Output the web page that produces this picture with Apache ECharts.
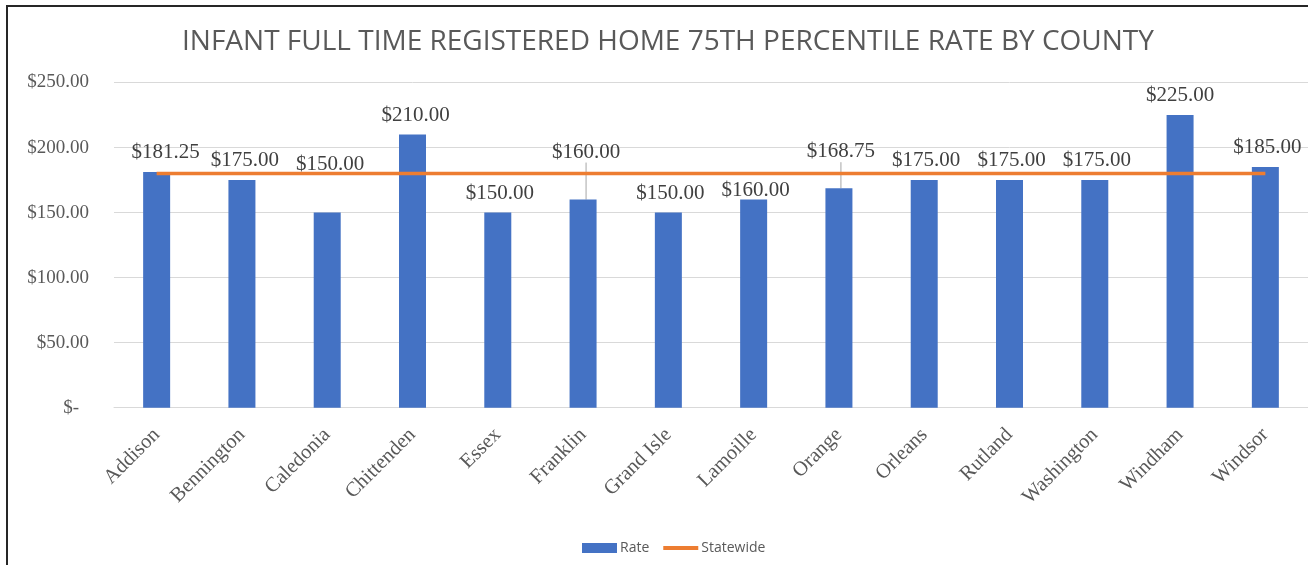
<!DOCTYPE html>
<html>
<head>
<meta charset="utf-8">
<script src="https://cdn.jsdelivr.net/npm/echarts@6/dist/echarts.min.js"></script>
<style>
  html, body { margin: 0; padding: 0; background: #fff; }
  #chart { width: 1308px; height: 565px; }
</style>
</head>
<body>
<div id="chart"></div>
<script>
// counties and values
var counties = ['Addison', 'Bennington', 'Caledonia', 'Chittenden', 'Essex', 'Franklin',
  'Grand Isle', 'Lamoille', 'Orange', 'Orleans', 'Rutland', 'Washington', 'Windham', 'Windsor'];
var rate = [181.25, 175, 150, 210, 150, 160, 150, 160, 168.75, 175, 175, 175, 225, 185];
var statewide = [180, 180, 180, 180, 180, 180, 180, 180, 180, 180, 180, 180, 180, 180];
var yTicks = [0, 50, 100, 150, 200, 250];

// label nudges (pixels), like the hand-placed labels in the original
var labelDx = [9, 3, 3, 3, 2, 3, 2, 2, 2, 2, 2, 2, 0, 2];
var labelDy = [0, 0, -29, 0, 0, -28, 0, 10, -17, 0, 0, 0, 0, 0];
var leader = [5, 8];

var chartDom = document.getElementById('chart');
var myChart = echarts.init(chartDom);
var option;

function money(v) {
  return '$' + v.toFixed(2);
}

var serif = 'Liberation Serif';

option = {
  animation: false,
  title: {
    text: 'INFANT FULL TIME REGISTERED HOME 75TH PERCENTILE RATE BY COUNTY',
    left: 177,
    top: 23,
    textStyle: {
      fontFamily: 'Open Sans',
      fontWeight: 'normal',
      fontSize: 28,
      color: '#595959'
    }
  },
  legend: {
    left: 577,
    top: 536,
    itemWidth: 35,
    itemHeight: 10,
    itemGap: 14,
    textStyle: { fontFamily: 'Open Sans', fontSize: 14, color: '#595959', padding: [0, 0, 0, -2] },
    data: [
      { name: 'Rate', icon: 'rect' },
      { name: 'Statewide', icon: 'path://M0,0 L36,0 L36,4 L0,4 Z' }
    ]
  },
  grid: { left: 114, right: 0, top: 82.5, bottom: 157.3, containLabel: false },
  xAxis: {
    type: 'category',
    data: counties,
    axisTick: { show: false },
    axisLine: { lineStyle: { color: '#d9d9d9', width: 1 } },
    axisLabel: {
      rotate: 45,
      interval: 0,
      margin: 24,
      fontFamily: serif,
      fontSize: 20.5,
      color: '#595959'
    }
  },
  yAxis: {
    type: 'value',
    min: yTicks[0],
    max: yTicks[yTicks.length - 1],
    interval: 50,
    axisLine: { show: false },
    axisTick: { show: false },
    splitLine: { lineStyle: { color: '#d9d9d9', width: 1 } },
    axisLabel: {
      margin: 25,
      fontFamily: serif,
      fontSize: 19,
      color: '#595959',
      formatter: function (v) {
        return v === 0 ? '{z|$-}' : money(v);
      },
      rich: {
        z: { fontFamily: serif, fontSize: 19, color: '#595959', padding: [0, 10, 0, 0] }
      }
    }
  },
  graphic: [{
    type: 'rect',
    shape: { x: 7, y: 6, width: 1400, height: 700 },
    style: { fill: 'none', stroke: '#262626', lineWidth: 2 },
    silent: true
  }],
  series: [
    {
      name: 'Rate',
      type: 'bar',
      barWidth: 27,
      itemStyle: { color: '#4472C4' },
      data: rate.map(function (v, i) {
        return {
          value: v,
          labelLine: { show: leader.indexOf(i) >= 0 }
        };
      }),
      label: {
        show: true,
        position: 'top',
        distance: 9,
        fontFamily: serif,
        fontSize: 21,
        color: '#404040',
        formatter: function (p) { return money(p.value); }
      },
      labelLine: { lineStyle: { color: '#a6a6a6', width: 1 } },
      labelLayout: function (p) {
        return { dx: labelDx[p.dataIndex], dy: labelDy[p.dataIndex] };
      }
    },
    {
      name: 'Statewide',
      type: 'line',
      data: statewide,
      symbol: 'none',
      lineStyle: { color: '#ED7D31', width: 3.5 },
      itemStyle: { color: '#ED7D31' },
      z: 3
    }
  ]
};

option && myChart.setOption(option);
</script>
</body>
</html>
